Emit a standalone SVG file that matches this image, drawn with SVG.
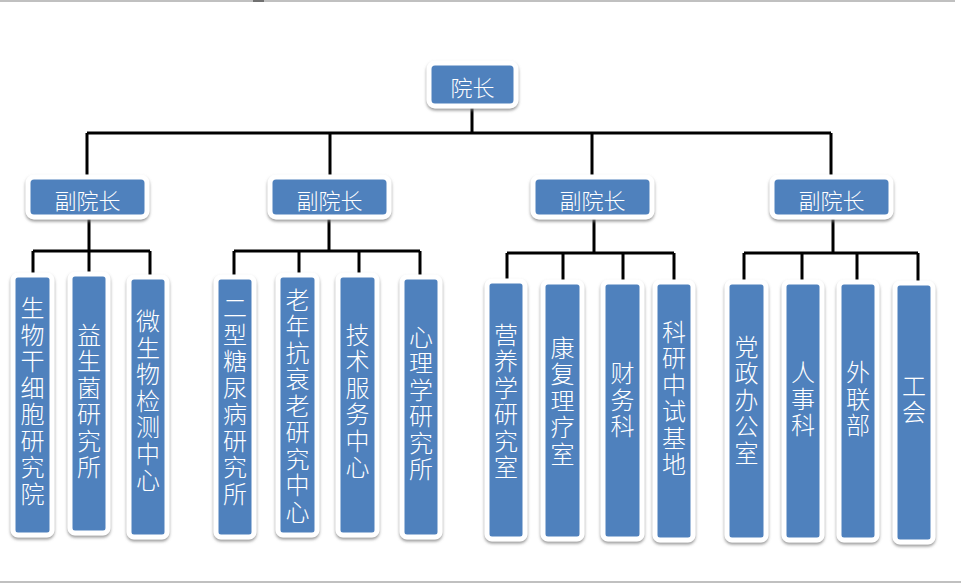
<svg xmlns="http://www.w3.org/2000/svg" width="961" height="583" viewBox="0 0 961 583">
<defs>
<filter id="sh" x="-20%" y="-20%" width="140%" height="140%">
<feDropShadow dx="0" dy="2" stdDeviation="1.5" flood-color="#808080" flood-opacity="0.8"/>
</filter>
<style>
.box{fill:#4F81BD;stroke:#FFFFFF;stroke-width:5;filter:url(#sh);}
.lbl{fill:#FFFFFF;font-family:"Noto Sans CJK SC","Noto Sans CJK JP",sans-serif;font-weight:300;font-size:22px;text-anchor:middle;dominant-baseline:central;}
.v{fill:#FFFFFF;font-family:"Noto Sans CJK SC","Noto Sans CJK JP",sans-serif;font-weight:300;font-size:24px;writing-mode:vertical-rl;text-anchor:middle;letter-spacing:2.5px;}
.ln{stroke:#000000;stroke-width:3;fill:none;}
.frame{stroke:#C0C0C0;stroke-width:2;}
</style>
</defs>
<rect width="961" height="583" fill="#FFFFFF"/>
<line class="frame" x1="0" y1="1" x2="955" y2="1"/>
<line class="frame" x1="0" y1="582" x2="961" y2="582"/>
<rect x="253" y="0" width="11" height="2" fill="#707070"/>

<g id="connectors">
<path class="ln" d="M472,106 V133 M87,133 H831 M87,133 V177 M330,133 V177 M592,133 V177 M831,133 V177"/>
<path class="ln" d="M89,217 V251 M33,251 H150 M33,251 V275 M89,251 V274 M150,251 V277"/>
<path class="ln" d="M329,217 V251 M234,251 H420 M234,251 V277 M299,251 V275 M359,251 V275 M420,251 V277"/>
<path class="ln" d="M594,217 V253 M507,253 H674 M507,253 V281 M563,253 V282 M623,253 V282 M674,253 V282"/>
<path class="ln" d="M833,217 V253 M744,253 H918 M744,253 V282 M802,253 V282 M857,253 V282 M918,253 V283"/>
</g>

<g id="n-director"><rect class="box" x="429" y="63" width="87" height="43" rx="6"/><text class="lbl" x="472.5" y="86">院长</text></g>

<g id="n-vp1"><rect class="box" x="28" y="177" width="119" height="40" rx="6"/><text class="lbl" x="87.5" y="199">副院长</text></g>
<g id="n-vp2"><rect class="box" x="270" y="177" width="119" height="40" rx="6"/><text class="lbl" x="329.5" y="199">副院长</text></g>
<g id="n-vp3"><rect class="box" x="533" y="177" width="119" height="40" rx="6"/><text class="lbl" x="592.5" y="199">副院长</text></g>
<g id="n-vp4"><rect class="box" x="772" y="177" width="119" height="40" rx="6"/><text class="lbl" x="831.5" y="199">副院长</text></g>

<g id="n-a1"><rect class="box" x="13" y="275" width="39" height="260" rx="5"/><text class="v" x="32.5" y="402">生物干细胞研究院</text></g>
<g id="n-a2"><rect class="box" x="70" y="274" width="38" height="259" rx="5"/><text class="v" x="89" y="402">益生菌研究所</text></g>
<g id="n-a3"><rect class="box" x="129" y="277" width="38" height="260" rx="5"/><text class="v" x="148" y="402">微生物检测中心</text></g>

<g id="n-b1"><rect class="box" x="216" y="277" width="38" height="260" rx="5"/><text class="v" x="235" y="402">二型糖尿病研究所</text></g>
<g id="n-b2"><rect class="box" x="278" y="275" width="39" height="260" rx="5"/><text class="v" x="297.5" y="407">老年抗衰老研究中心</text></g>
<g id="n-b3"><rect class="box" x="338" y="275" width="39" height="260" rx="5"/><text class="v" x="357.5" y="402">技术服务中心</text></g>
<g id="n-b4"><rect class="box" x="402" y="277" width="38" height="260" rx="5"/><text class="v" x="421" y="404">心理学研究所</text></g>

<g id="n-c1"><rect class="box" x="487" y="281" width="38" height="258" rx="5"/><text class="v" x="506" y="402">营养学研究室</text></g>
<g id="n-c2"><rect class="box" x="543" y="282" width="39" height="257" rx="5"/><text class="v" x="562.5" y="402">康复理疗室</text></g>
<g id="n-c3"><rect class="box" x="603" y="282" width="39" height="257" rx="5"/><text class="v" x="622.5" y="401">财务科</text></g>
<g id="n-c4"><rect class="box" x="655" y="282" width="38" height="258" rx="5"/><text class="v" x="674" y="399">科研中试基地</text></g>

<g id="n-d1"><rect class="box" x="727" y="282" width="39" height="258" rx="5"/><text class="v" x="746.5" y="401">党政办公室</text></g>
<g id="n-d2"><rect class="box" x="784" y="282" width="38" height="258" rx="5"/><text class="v" x="803" y="400">人事科</text></g>
<g id="n-d3"><rect class="box" x="839" y="282" width="38" height="258" rx="5"/><text class="v" x="858" y="400">外联部</text></g>
<g id="n-d4"><rect class="box" x="895" y="283" width="38" height="259" rx="5"/><text class="v" x="914" y="400">工会</text></g>
</svg>
